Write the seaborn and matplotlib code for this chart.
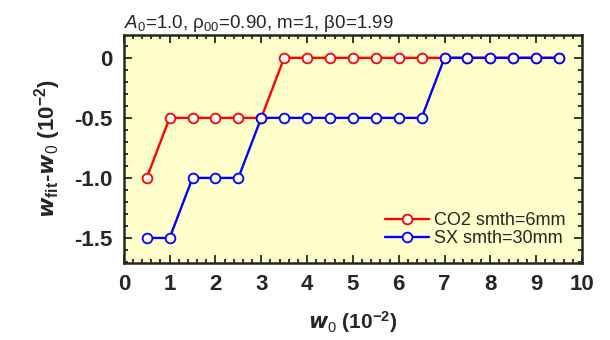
import numpy as np
import pandas as pd
import seaborn as sns
import matplotlib.pyplot as plt
from matplotlib.ticker import MultipleLocator

# data
w0 = [0.5, 1.0, 1.5, 2.0, 2.5, 3.0, 3.5, 4.0, 4.5, 5.0, 5.5, 6.0, 6.5, 7.0, 7.5, 8.0, 8.5, 9.0, 9.5]
co2 = [-1.0, -0.5, -0.5, -0.5, -0.5, -0.5, 0, 0, 0, 0, 0, 0, 0, 0, 0, 0, 0, 0, 0]
sx = [-1.5, -1.5, -1.0, -1.0, -1.0, -0.5, -0.5, -0.5, -0.5, -0.5, -0.5, -0.5, -0.5, 0, 0, 0, 0, 0, 0]
labels = ["CO2 smth=6mm", "SX smth=30mm"]

df = pd.DataFrame({
    "w0": w0 * 2,
    "diff": co2 + sx,
    "series": [labels[0]] * len(w0) + [labels[1]] * len(w0),
})

sns.set_style("ticks")
plt.rcParams["font.family"] = ["Liberation Sans", "DejaVu Sans"]
plt.rcParams["mathtext.fontset"] = "custom"
plt.rcParams["mathtext.rm"] = "Liberation Sans"
plt.rcParams["mathtext.it"] = "Liberation Sans:italic"
plt.rcParams["mathtext.bf"] = "Liberation Sans:bold"

fig = plt.figure(figsize=(6.1, 3.4), dpi=100)
ax = fig.add_axes([0.203, 0.226, 0.751, 0.671])
ax.set_facecolor("#ffffcc")

sns.lineplot(data=df, x="w0", y="diff", hue="series", palette=["red", "blue"],
             marker="o", markersize=7, markerfacecolor="white", markeredgewidth=1.3,
             linewidth=1.7, legend=False, ax=ax)
for line, c in zip(ax.lines, ["red", "blue"]):
    line.set_markeredgecolor(c)

ax.set_xlim(0, 10)
ax.set_ylim(-1.71, 0.19)
ax.xaxis.set_major_locator(MultipleLocator(1))
ax.xaxis.set_minor_locator(MultipleLocator(0.2))
ax.yaxis.set_major_locator(MultipleLocator(0.5))
ax.yaxis.set_minor_locator(MultipleLocator(0.1))
ax.set_yticks([0, -0.5, -1.0, -1.5])
ax.set_yticklabels(["0", "-0.5", "-1.0", "-1.5"])
ax.tick_params(which="both", direction="in", top=True, right=True, width=1.3)
ax.tick_params(which="major", length=6, labelsize=16, pad=8)
ax.tick_params(which="minor", length=3)
for t in ax.get_xticklabels() + ax.get_yticklabels():
    t.set_fontweight("bold")
for s in ax.spines.values():
    s.set_linewidth(1.8)

ax.set_xlabel(r"$\mathbfit{w}_0$ (10$^{\mathbf{-2}}$)", fontsize=15, fontweight="bold", labelpad=10)
ax.set_ylabel(r"$\mathbfit{w}_{\mathbf{fit}}$-$\mathbfit{w}_0$ (10$^{\mathbf{-2}}$)", fontsize=16,
              fontweight="bold", labelpad=8)
ax.set_title(r"$A_0$=1.0, ρ$_{00}$=0.90, m=1, β0=1.99", fontsize=13.5, loc="left", pad=5)

ax.legend(handles=ax.lines[:2], labels=labels, loc="lower right", frameon=False, fontsize=13,
          handlelength=2.4, handletextpad=0.3, labelspacing=0.05, borderaxespad=0.5)
plt.savefig("out.png", dpi=100)
